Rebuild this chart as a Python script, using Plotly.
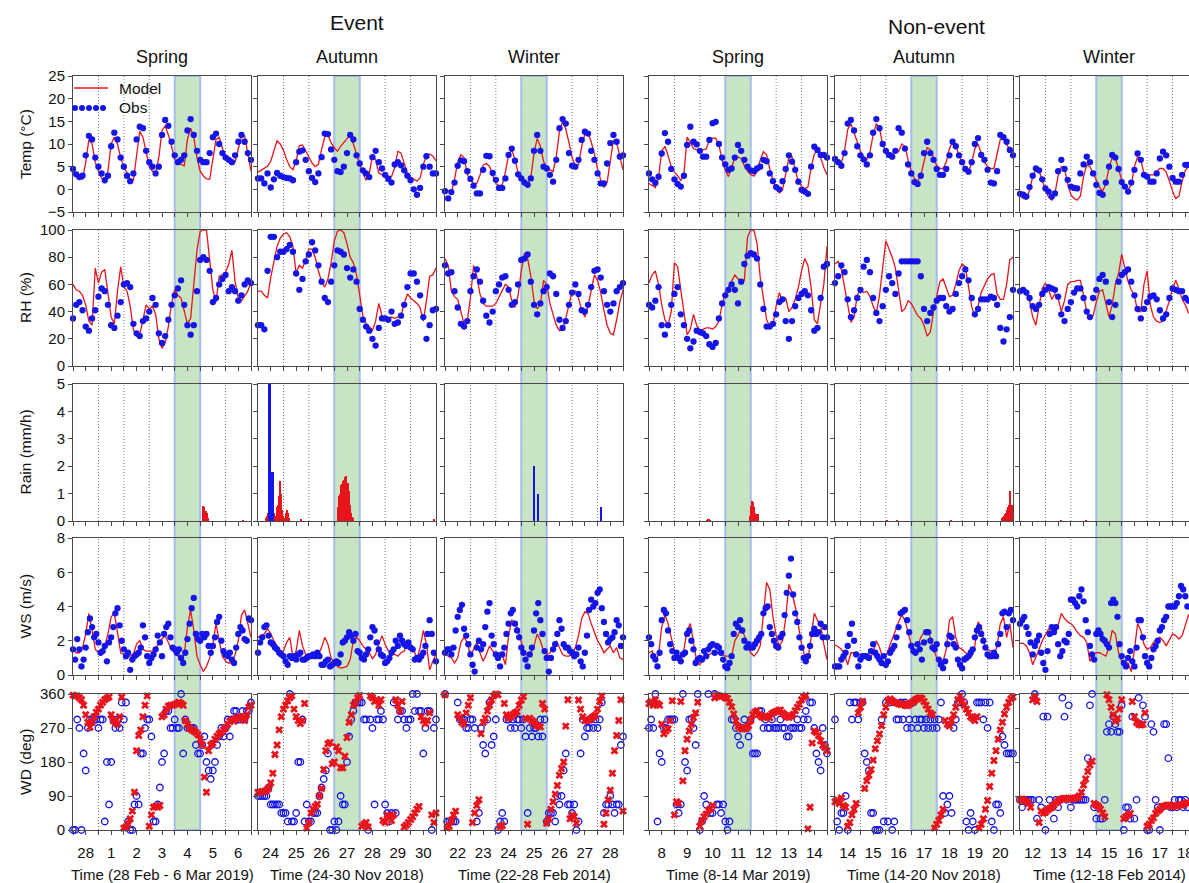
import numpy as np
import plotly.graph_objects as go

# ---------------- tick labels (day of month) ----------------
ev_spr_days = ["28", "1", "2", "3", "4", "5", "6"]
ev_aut_days = ["24", "25", "26", "27", "28", "29", "30"]
ev_win_days = ["22", "23", "24", "25", "26", "27", "28"]
ne_spr_days = ["8", "9", "10", "11", "12", "13", "14"]
ne_aut_days = ["14", "15", "16", "17", "18", "19", "20"]
ne_win_days = ["12", "13", "14", "15", "16", "17", "18"]

# ======== Event - Spring (28 Feb - 6 Mar 2019) ========  (Temp/RH/WS model: 3-hourly, WS/WD obs & WD model: 2-hourly)
ev_spr_temp_model = [4, 3, 2.5, 2.2, 6, 11, 10, 6, 4, 2.5, 1.5, 4, 10, 11.5, 10, 7, 5, 3.5, 2.2, 2, 8, 12.8, 11.5, 8,
                     5, 4, 3.5, 7, 13, 14, 12, 9.5, 6.5, 6.2, 5.5, 5.2, 11, 13.5, 11.5, 7, 4, 3, 2.3, 2.2, 7, 11, 11.5, 9,
                     7.5, 7, 6.5, 6, 9, 11.5, 11.8, 8, 4]
ev_spr_temp_obs = [4.5, 3.3, 2.7, 3, 7.5, 11.8, 11, 7, 5, 3.5, 2, 3, 9.5, 12.5, 11, 7, 5, 3, 1.8, 3.5, 11, 13.8, 13.5, 8.5,
                   6, 5, 3.5, 5, 12, 15.3, 14, 10.5, 7.5, 6, 6.5, 7.5, 13, 15.5, 12, 8.5, 6.5, 6, 6, 8, 11.5, 12.3, 10, 8,
                   7, 6.5, 6, 7.5, 10.5, 12, 10.5, 8, 6.5]
ev_spr_rh_model = [60, 56, 55, 52, 45, 33, 30, 72, 61, 69, 71, 55, 36, 31, 55, 73, 58, 55, 44, 27, 22, 23, 34, 45,
                   42, 44, 38, 20, 13, 17, 29, 46, 56, 52, 50, 40, 31, 35, 60, 85, 99, 100, 100, 80, 56, 47, 66, 67,
                   69, 75, 85, 62, 50, 48, 52, 55, 62]
ev_spr_rh_obs = [35, 45, 47, 41, 29, 26, 35, 41, 51, 57, 55, 45, 30, 28, 37, 47, 60, 61, 58, 31, 24, 22, 33, 35,
                 40, 50, 45, 24, 17, 22, 34, 45, 52, 57, 63, 45, 30, 23, 30, 55, 78, 80, 78, 70, 47, 50, 60, 64,
                 67, 55, 58, 55, 48, 52, 60, 63, 61]
ev_spr_rain_model_hour = [122, 123, 124, 125, 126, 127, 160]
ev_spr_rain_model = [0.55, 0.5, 0.3, 0.35, 0.3, 0.1, 0.03]
ev_spr_rain_obs_hour = []
ev_spr_rain_obs = []
ev_spr_ws_model = [1.5, 1.3, 1.3, 1.6, 2.4, 3.6, 2.6, 1.5, 1.3, 1.3, 1.7, 2.4, 3.4, 3.6, 2.5, 1.3, 1.2, 1.1, 1.1, 1.2,
                   1.8, 2.0, 1.5, 1.4, 1.4, 1.4, 1.5, 1.9, 2.1, 2.3, 1.9, 1.5, 1.3, 1.1, 1.0, 1.2, 2.8, 3.8, 2.6, 1.1,
                   0.6, 0.2, 0.5, 1.0, 1.8, 3.0, 2.0, 1.1, 0.8, 0.7, 0.7, 1.2, 2.0, 3.5, 3.8, 2.9, 2.2]
ev_spr_ws_obs = [1.5, 0.9, 2.1, 1.5, 0.5, 0.9, 1.6, 2.5, 3.3, 2.8, 2.2, 2.4, 1.9, 1.3, 1.4, 1.7, 0.8, 1.9, 2.2, 2.8,
                 3.6, 3.9, 2.9, 2.0, 1.5, 1.1, 1.3, 0.3, 0.9, 1.1, 1.2, 1.3, 1.6, 2.9, 2.2, 1.1, 0.7, 1.0, 1.2, 1.5,
                 2.3, 1.9, 1.1, 2.4, 2.8, 3.0, 2.2, 1.6, 1.5, 1.3, 1.5, 1.0, 0.7, 1.3, 2.1, 3.0, 3.9, 4.5, 2.4, 2.1,
                 2.0, 2.4, 2.2, 2.4, 1.7, 1.3, 1.7, 2.2, 3.1, 3.4, 2.0, 1.4, 1.2, 1.1, 1.3, 0.9, 0.7, 1.6, 2.4, 2.8,
                 2.6, 2.1, 2.0, 3.3, 3.2]
ev_spr_wd_model = [357, 355, 355, 350, 345, 330, 305, 285, 272, 285, 300, 312, 320, 331, 338, 345, 349, 352, 305, 290,
                   285, 280, 300, 352, 5, 8, 15, 30, 50, 100, 210, 250, 265, 300, 330, 355, 10, 40, 60, 62,
                   60, 65, 300, 305, 320, 328, 330, 330, 332, 335, 338, 335, 330, 290, 280, 270, 265, 262, 258, 252,
                   240, 225, 140, 100, 210, 225, 230, 240, 248, 255, 258, 265, 270, 280, 288, 292, 288, 295, 298, 300,
                   295, 290, 305, 325, 330]
ev_spr_wd_obs = [0, 0, 292.5, 270, 0, 202.5, 157.5, 270, 292.5, 292.5, 292.5, 292.5, 270, 292.5, 292.5, 22.5, 180, 67.5,
                 180, 292.5, 270, 292.5, 270, 337.5, 292.5, 337.5, 22.5, 0, 0, 67.5, 90, 67.5, 202.5, 202.5, 270, 292.5,
                 292.5, 247.5, 22.5, 22.5, 67.5, 112.5, 180, 202.5, 315, 315, 270, 270, 292.5, 270, 270, 360, 202.5,
                 292.5, 270, 270, 270, 270, 225, 202.5, 202.5, 225, 247.5, 180, 157.5, 135, 157.5, 180, 225, 247.5,
                 270, 247.5, 270, 292.5, 247.5, 292.5, 315, 315, 292.5, 292.5, 315, 292.5, 315, 315, 337.5]

# ======== Event - Autumn (24-30 Nov 2018) ========
ev_aut_temp_model = [3.8, 4.3, 4.6, 5.1, 6.2, 8.5, 10.7, 10, 8.6, 6.6, 5, 4.3, 6.3, 9.6, 9.8, 8.5, 7, 5.8, 5, 5.5,
                     8.8, 11.5, 12, 10.3, 9.2, 8.4, 9.5, 10.3, 11, 12, 10, 7.8, 5.7, 3.5, 2, 3.5, 7.5, 6.5, 3.6, 3.2,
                     3.1, 3, 2.8, 4.8, 8.4, 8, 5.5, 3.5, 2.7, 2.2, 1.8, 2.5, 5.5, 7.4, 7.8, 7.3, 6.3]
ev_aut_temp_obs = [2.4, 2.4, 1.3, 3.5, 0.4, 2.2, 3.6, 3.0, 2.7, 2.5, 2.4, 2.0, 6.0, 8.3, 8.6, 6.5, 4.0, 2.5, 1.6, 3.5,
                   7.1, 12.3, 12.2, 8.8, 6.5, 4.0, 3.8, 5.0, 8.0, 12.0, 11.0, 7.5, 5.7, 4.2, 3.5, 2.7, 7.1, 8.5, 6.0,
                   4.6, 3.2, 2.3, 1.5, 5.5, 6.0, 5.3, 4.2, 3.0, 2.0, 0.0, -1.2, 0.3, 5.0, 7.3, 5.0, 3.5, 3.5]
ev_aut_rh_model = [55, 55, 52, 50, 65, 78, 88, 94, 97, 98, 95, 88, 68, 74, 72, 78, 86, 86, 80, 70, 62, 58, 64, 76,
                   92, 99, 100, 98, 90, 80, 76, 67, 53, 37, 31, 29, 26, 33, 46, 37, 34, 35, 36, 35, 36, 37, 46, 53,
                   50, 48, 46, 43, 33, 48, 66, 67, 72]
ev_aut_rh_obs = [30, 30, 27, 70, 95, 95, 80, 84, 84, 86, 89, 84, 68, 56, 64, 77, 82, 91, 85, 74, 62, 50, 47, 62,
                 74, 85, 84, 82, 72, 65, 71, 62, 42, 34, 29, 26, 20, 15, 28, 35, 35, 34, 40, 31, 32, 37, 45, 58,
                 68, 68, 62, 52, 36, 20, 30, 41, 42]
ev_aut_rain_model_hour = [7, 8, 9, 10, 11, 12, 13, 14, 15, 16, 17, 18, 19, 20, 21, 22, 23, 24, 25, 26, 27, 28, 29, 40,
                          75, 76, 77, 78, 79, 80, 81, 82, 83, 84, 85, 86, 87, 88, 89, 166]
ev_aut_rain_model = [0.1, 0.2, 0.3, 0.5, 0.6, 0.7, 0.6, 0.35, 0.3, 0.2, 0.5, 0.6, 0.9, 1.45, 1.0, 0.4, 0.2, 0.1, 0.1,
                     0.3, 0.4, 0.3, 0.1, 0.05, 0.5, 0.9, 1.0, 1.3, 1.35, 1.45, 1.5, 1.6, 1.65, 1.4, 1.1, 0.6, 0.3,
                     0.15, 0.1, 0.05]
ev_aut_rain_obs_hour = [10.5, 12, 13.5]
ev_aut_rain_obs = [5.0, 0.7, 1.8]
ev_aut_ws_model = [2.2, 2.3, 2.4, 2.7, 2.4, 2.0, 1.7, 1.4, 1.4, 1.9, 2.2, 1.0, 1.4, 2.6, 1.7, 1.2, 1.1, 1.1, 1.1, 1.2,
                   1.6, 2.2, 1.8, 1.0, 0.7, 0.5, 0.4, 0.45, 0.5, 0.9, 2.0, 2.2, 2.0, 1.7, 1.5, 1.3, 0.95, 1.2, 1.8,
                   2.3, 1.8, 1.4, 1.3, 1.2, 1.1, 1.3, 1.4, 1.8, 1.8, 1.5, 0.9, 1.6, 2.6, 1.8, 0.3, 0.8, 1.2]
ev_aut_ws_obs = [1.3, 1.9, 2.2, 2.8, 2.9, 2.3, 1.9, 1.8, 1.6, 1.5, 1.3, 1.2, 1.1, 0.8, 0.6, 1.1, 1.0, 1.1, 0.9, 1.2,
                 1.3, 0.9, 0.9, 1.0, 1.1, 1.1, 1.2, 1.1, 1.3, 1.1, 0.6, 0.6, 0.8, 0.9, 0.5, 0.6, 0.7, 0.8, 0.7, 1.2,
                 1.9, 2.0, 2.2, 2.5, 2.3, 2.0, 2.4, 1.4, 1.3, 1.0, 0.9, 1.2, 1.5, 2.2, 2.8, 2.6, 1.9, 1.5, 1.2, 1.1,
                 0.7, 0.8, 1.0, 1.3, 1.5, 2.0, 1.7, 2.3, 2.0, 1.8, 1.7, 1.9, 1.6, 1.5, 0.9, 1.0, 0.9, 1.1, 1.3, 1.7,
                 2.4, 3.2, 2.4, 1.3, 0.8]
ev_aut_wd_model = [100, 100, 102, 102, 105, 110, 125, 150, 200, 225, 265, 300, 320, 330, 342, 350, 355, 320, 300, 290,
                   282, 290, 335, 5, 20, 45, 55, 62, 68, 90, 110, 160, 210, 228, 232, 175, 180, 220, 210, 165,
                   165, 195, 245, 285, 305, 330, 338, 350, 356, 10, 15, 20, 8, 355, 350, 340, 345, 330, 345, 25,
                   20, 40, 35, 25, 40, 345, 330, 315, 340, 8, 13, 20, 28, 35, 45, 55, 62, 300, 290, 282,
                   290, 310, 40, 20, 45]
ev_aut_wd_obs = [90, 90, 90, 90, 90, 112.5, 67.5, 67.5, 67.5, 67.5, 67.5, 45, 45, 45, 22.5, 360, 22.5, 22.5, 45, 180,
                 180, 292.5, 22.5, 67.5, 22.5, 22.5, 45, 45, 45, 90, 112.5, 135, 157.5, 202.5, 0, 0, 22.5, 0, 22.5,
                 90, 67.5, 67.5, 180, 247.5, 292.5, 315, 337.5, 337.5, 337.5, 337.5, 292.5, 292.5, 0, 292.5, 270,
                 67.5, 292.5, 292.5, 315, 292.5, 67.5, 45, 22.5, 45, 337.5, 45, 292.5, 315, 315, 292.5, 270, 292.5,
                 292.5, 360, 315, 360, 315, 315, 202.5, 270, 315, 315, 0, 270, 292.5]

# ======== Event - Winter (22-28 Feb 2014) ========
ev_win_temp_model = [0.2, -0.4, -0.8, 2.2, 6, 7.6, 7, 3.3, 2.0, 1.3, 1.3, 3.1, 5.3, 5.7, 5.1, 3.2, 1.3, 0.8, 1.0, 3.8,
                     7.5, 8.7, 6.6, 3.6, 2.9, 2.2, 1.4, 2.5, 8, 11.2, 9.5, 6.2, 4.8, 4.3, 3.9, 7.2, 12.8, 15, 13.3, 10.3,
                     7, 5.2, 5.4, 9.5, 12.2, 12.5, 10.5, 7.8, 4.5, 2, 0.4, 1.5, 6.5, 10.9, 10.3, 7.5, 4.3]
ev_win_temp_obs = [-0.4, -2, -0.6, 1.5, 5.2, 6.4, 6.2, 4, 2.3, 0.8, -0.9, -0.9, 4.3, 7.4, 7.3, 3.6, 2.1, 0.3, 0.3, 2.4,
                   7.6, 9, 6.3, 3.3, 2.4, 1.5, 1.0, 2.4, 8.5, 12, 8.5, 5, 4.6, 3.2, 1.7, 6.5, 13.5, 15.5, 14.5, 8,
                   5.2, 5, 6.5, 10.9, 12.7, 12.3, 8.5, 6.5, 3.5, 1.3, 1.3, 5.7, 10.2, 12, 10.5, 7.2, 7.5]
ev_win_rh_model = [79, 74, 55, 51, 49, 40, 31, 33, 50, 74, 66, 53, 46, 44, 44, 44, 46, 51, 56, 60, 58, 48, 43, 52,
                   70, 83, 79, 66, 48, 42, 45, 63, 60, 46, 38, 30, 26, 27, 35, 46, 55, 55, 50, 41, 36, 44, 56, 67,
                   63, 54, 41, 30, 24, 23, 34, 47, 56]
ev_win_rh_obs = [74, 68, 69, 55, 43, 31, 29, 33, 55, 66, 71, 62, 48, 37, 32, 40, 55, 60, 65, 66, 56, 45, 47, 60,
                 78, 79, 82, 62, 45, 38, 46, 55, 58, 68, 66, 53, 34, 28, 33, 45, 54, 60, 53, 41, 40, 45, 58, 70,
                 71, 65, 55, 45, 40, 46, 55, 58, 61]
ev_win_rain_model_hour = []
ev_win_rain_model = []
ev_win_rain_obs_hour = [84, 87.5, 147]
ev_win_rain_obs = [2.0, 1.0, 0.5]
ev_win_ws_model = [1.3, 1.1, 1.0, 0.7, 1.0, 1.9, 2.2, 1.9, 1.1, 1.5, 1.9, 1.3, 0.8, 1.2, 1.7, 1.4, 1.2, 1.3, 1.2, 0.6,
                   2.3, 3.2, 3.1, 2.6, 1.9, 1.3, 1.1, 1.3, 1.7, 2.4, 2.0, 1.4, 1.2, 1.3, 1.6, 2.0, 1.6, 1.2, 1.1, 1.1,
                   1.2, 1.6, 2.3, 3.3, 3.7, 3.6, 3.0, 2.5, 2.0, 1.7, 1.3, 1.5, 1.7, 1.3, 1.6, 1.0, 0.9]
ev_win_ws_obs = [1.3, 1.5, 1.5, 1.2, 1.6, 2.6, 3.4, 3.8, 4.1, 2.7, 2.3, 1.8, 1.2, 0.6, 0.2, 1.6, 2.0, 1.5, 1.8, 2.8,
                 3.7, 4.2, 2.3, 1.8, 1.2, 1.0, 0.5, 1.2, 1.6, 2.4, 3.0, 3.6, 3.8, 3.0, 2.6, 2.2, 1.6, 1.3, 0.9, 0.5,
                 1.2, 1.6, 2.6, 3.6, 4.2, 3.2, 2.4, 1.4, 1.0, 0.2, 1.0, 1.5, 1.8, 2.4, 3.2, 2.7, 1.8, 1.6, 1.6, 1.4,
                 1.3, 1.1, 1.2, 1.6, 0.8, 0.5, 1.3, 2.3, 3.8, 4.4, 4.0, 4.2, 4.8, 5.0, 3.9, 3.1, 2.4, 1.9, 2.1, 2.2,
                 2.5, 3.2, 2.9, 1.7, 2.2]
ev_win_wd_model = [358, 5, 10, 25, 40, 50, 305, 298, 285, 280, 310, 330, 350, 20, 45, 65, 80, 255, 285, 296,
                   315, 330, 344, 355, 360, 358, 8, 12, 335, 305, 296, 300, 305, 310, 313, 330, 344, 353, 295, 15,
                   296, 290, 285, 278, 275, 273, 335, 320, 18, 30, 55, 75, 95, 118, 145, 163, 180, 275, 345, 30,
                   40, 35, 18, 344, 320, 300, 290, 290, 292, 296, 300, 304, 320, 340, 355, 15, 45, 80, 105, 150,
                   210, 250, 290, 345, 50]
ev_win_wd_obs = [360, 22.5, 22.5, 22.5, 22.5, 22.5, 337.5, 292.5, 292.5, 292.5, 270, 270, 292.5, 292.5, 270, 22.5, 45,
                 270, 225, 202.5, 292.5, 337.5, 225, 247.5, 292.5, 0, 22.5, 45, 22.5, 292.5, 292.5, 270, 292.5, 270,
                 292.5, 292.5, 270, 292.5, 247.5, 45, 270, 247.5, 270, 270, 247.5, 292.5, 247.5, 292.5, 22.5, 45, 45,
                 45, 22.5, 90, 67.5, 90, 157.5, 202.5, 67.5, 67.5, 45, 67.5, 0, 22.5, 202.5, 292.5, 247.5, 270, 270,
                 292.5, 270, 292.5, 270, 292.5, 337.5, 45, 67.5, 67.5, 90, 67.5, 45, 67.5, 67.5, 225, 247.5]

# ======== Non-event - Spring (8-14 Mar 2019) ========
ne_spr_temp_model = [1.3, 0.9, 0.4, 2.5, 8.5, 9.5, 7.5, 5.0, 3.8, 3.0, 1.9, 3.5, 11.5, 10.3, 9.0, 8.7, 8.7, 8.7, 8.9,
                     10.8, 11.3, 11.3, 9.8, 6.5, 4.2, 2.8, 4.8, 7.0, 7.1, 6.8, 5.2, 4.0, 3.3, 2.9, 3.9, 6.5, 8.3, 7.6,
                     4.5, 1.9, 0.3, -0.8, -0.2, 3.0, 6.9, 7.2, 4.2, 1.6, 0.7, 0.2, 0.5, 4.8, 7.8, 8.6, 7.0, 4.8, 3.2]
ne_spr_temp_obs = [3.5, 2.2, 1.4, 2.8, 7.9, 12.4, 10.5, 4.5, 2.2, 1.2, 0.6, 3.0, 9.8, 13.8, 10.5, 9.9, 8.5, 7.2, 7.2,
                   10.9, 14.6, 14.9, 10.0, 7.0, 5.5, 4.3, 4.6, 7.0, 9.8, 8.5, 6.5, 5.0, 4.2, 4.0, 4.6, 5.0, 6.5, 6.2,
                   3.5, 1.8, 0.5, 0.0, 1.8, 4.5, 7.5, 6.1, 4.3, 1.7, -0.1, -0.5, -1.0, 5.0, 9.4, 8.7, 7.6, 7.6, 7.0]
ne_spr_rh_model = [61, 67, 70, 60, 45, 34, 30, 40, 76, 73, 56, 38, 23, 27, 38, 30, 26, 27, 28, 28, 27, 29, 33, 45,
                   54, 58, 63, 67, 64, 63, 63, 95, 100, 100, 90, 65, 50, 34, 29, 30, 44, 54, 47, 50, 40, 43, 49, 58,
                   70, 79, 74, 58, 34, 31, 46, 60, 88]
ne_spr_rh_obs = [45, 43, 48, 58, 30, 23, 30, 45, 53, 58, 38, 30, 20, 13, 18, 26, 25, 24, 22, 16, 14, 17, 35, 46,
                 52, 56, 60, 56, 46, 62, 75, 81, 83, 82, 79, 60, 42, 29, 29, 31, 38, 47, 49, 33, 20, 33, 44, 50,
                 53, 55, 52, 41, 26, 28, 50, 73, 75]
ne_spr_rain_model_hour = [54, 55, 56, 57, 95, 96, 97, 98, 99, 100, 101, 102, 132]
ne_spr_rain_model = [0.03, 0.05, 0.05, 0.03, 0.2, 0.55, 0.72, 0.7, 0.5, 0.3, 0.25, 0.25, 0.03]
ne_spr_rain_obs_hour = []
ne_spr_rain_obs = []
ne_spr_ws_model = [1.3, 1.4, 0.8, 1.2, 2.8, 3.5, 3.0, 2.1, 1.4, 1.0, 0.8, 1.5, 2.6, 3.0, 1.8, 0.8, 0.6, 0.9, 1.1, 1.2,
                   1.3, 1.3, 1.3, 1.2, 1.1, 1.1, 1.1, 2.0, 2.3, 2.8, 2.3, 1.6, 1.3, 1.1, 1.3, 1.7, 3.4, 5.4, 5.0, 3.4,
                   2.3, 1.7, 2.0, 3.3, 5.3, 4.8, 4.0, 3.0, 1.8, 1.1, 0.9, 2.2, 3.6, 3.2, 2.9, 1.8, 0.9]
ne_spr_ws_obs = [2.2, 1.8, 1.1, 0.9, 0.5, 1.3, 3.2, 3.8, 3.6, 2.6, 1.8, 1.4, 1.0, 1.3, 1.0, 0.8, 1.2, 1.3, 2.4, 2.6,
                 2.0, 1.5, 0.7, 0.9, 1.0, 0.9, 1.4, 1.1, 1.5, 1.7, 1.8, 1.3, 1.7, 1.6, 1.3, 0.9, 0.5, 0.4, 0.7, 1.1,
                 2.4, 3.0, 2.8, 3.2, 2.6, 2.0, 1.6, 1.8, 1.6, 1.6, 1.8, 2.0, 2.2, 2.4, 3.6, 3.9, 4.0, 2.8, 2.4, 2.0,
                 1.7, 1.6, 2.2, 2.4, 3.5, 4.8, 5.8, 6.8, 4.7, 3.6, 3.1, 2.2, 1.6, 1.0, 0.8, 1.1, 1.7, 2.4, 2.7, 2.4,
                 2.5, 3.0, 2.2, 2.8, 2.2]
ne_spr_wd_model = [335, 340, 330, 345, 335, 330, 280, 255, 262, 268, 289, 342, 40, 75, 70, 340, 130, 210, 240, 262,
                   280, 298, 310, 338, 10, 25, 35, 42, 52, 56, 65, 350, 357, 355, 353, 354, 350, 348, 338, 326,
                   307, 289, 275, 270, 267, 268, 270, 276, 290, 305, 312, 316, 305, 300, 298, 302, 300, 297, 308, 311,
                   314, 316, 318, 310, 305, 300, 298, 302, 306, 316, 325, 333, 345, 352, 356, 3, 60, 230, 262, 258,
                   250, 236, 224, 218, 210]
ne_spr_wd_obs = [270, 292.5, 270, 360, 22.5, 202.5, 180, 270, 270, 292.5, 292.5, 292.5, 292.5, 67.5, 45, 67.5, 360, 180,
                 157.5, 292.5, 292.5, 270, 225, 360, 0, 22.5, 90, 67.5, 360, 45, 45, 360, 67.5, 67.5, 45, 67.5, 22.5,
                 0, 22.5, 292.5, 292.5, 270, 247.5, 225, 270, 292.5, 270, 247.5, 292.5, 202.5, 202.5, 202.5, 315, 315,
                 270, 292.5, 270, 270, 292.5, 270, 270, 270, 292.5, 270, 270, 247.5, 247.5, 270, 270, 270, 292.5, 270,
                 270, 292.5, 315, 292.5, 337.5, 337.5, 270, 202.5, 180, 157.5, 270, 225, 202.5]

# ======== Non-event - Autumn (14-20 Nov 2018) ========
ne_aut_temp_model = [6.8, 6.1, 5.8, 8.5, 13.2, 14.5, 12.5, 10.2, 8.4, 7.0, 6.5, 8.2, 12.0, 14.5, 13.5, 9.8, 8.6, 7.9,
                     7.9, 8.3, 8.3, 10.0, 9.5, 6.5, 4.0, 2.4, 1.8, 3.0, 6.5, 9.2, 8.8, 6.8, 5.2, 4.6, 4.6, 6.0, 9.0,
                     10.5, 9.6, 7.5, 5.8, 4.5, 4.0, 5.8, 9.0, 10.0, 8.0, 6.0, 5.0, 4.6, 4.6, 7.5, 11.0, 11.0, 10.0,
                     8.8, 8.3]
ne_aut_temp_obs = [6.7, 6.0, 5.2, 8.0, 14.5, 15.3, 13.0, 9.5, 7.5, 6.6, 5.5, 7.5, 12.5, 15.5, 13.5, 10.0, 8.5, 7.6, 7.2,
                   8.5, 13.5, 12.5, 9.0, 5.5, 3.5, 1.6, 1.2, 3.0, 8.0, 10.5, 8.0, 6.5, 4.5, 3.2, 3.2, 4.5, 7.5, 10.5,
                   9.5, 7.5, 6.0, 4.5, 3.9, 6.0, 10.0, 11.3, 7.6, 6.5, 4.3, 1.5, 1.3, 4.0, 12.0, 11.5, 10.5, 8.7, 7.5]
ne_aut_rh_model = [75, 77, 71, 57, 46, 32, 36, 52, 56, 54, 55, 51, 44, 39, 52, 72, 92, 86, 80, 72, 56, 40, 42, 48,
                   46, 41, 37, 35, 30, 22, 25, 40, 51, 62, 64, 58, 51, 52, 60, 70, 75, 73, 60, 44, 36, 44, 54, 59,
                   64, 67, 68, 53, 49, 49, 60, 78, 80]
ne_aut_rh_obs = [61, 66, 74, 69, 49, 36, 41, 50, 56, 73, 78, 69, 50, 39, 33, 44, 56, 66, 61, 53, 68, 77, 77, 77,
                 77, 77, 77, 66, 42, 33, 39, 43, 48, 50, 50, 44, 40, 42, 53, 61, 66, 71, 63, 50, 38, 42, 49, 49,
                 49, 51, 50, 45, 28, 18, 27, 36, 56]
ne_aut_rain_model_hour = [49, 58, 109, 157, 158, 159, 160, 161, 162, 163, 164, 165, 166, 167]
ne_aut_rain_model = [0.03, 0.03, 0.03, 0.1, 0.15, 0.2, 0.25, 0.3, 0.4, 0.5, 0.6, 1.1, 0.6, 0.6]
ne_aut_rain_obs_hour = []
ne_aut_rain_obs = []
ne_aut_ws_model = [1.75, 1.65, 1.5, 1.2, 0.6, 1.3, 1.3, 1.2, 1.2, 1.1, 0.9, 1.0, 1.3, 2.0, 1.6, 1.0, 1.1, 1.6, 2.1, 2.7,
                   3.1, 3.5, 3.2, 2.5, 1.7, 1.8, 1.7, 2.2, 2.5, 2.6, 2.2, 1.5, 1.0, 0.8, 0.8, 1.5, 3.2, 3.4, 2.2, 1.6,
                   1.5, 1.3, 1.2, 1.1, 1.7, 3.1, 2.8, 1.8, 1.5, 1.4, 1.1, 1.7, 3.0, 3.4, 2.2, 3.0, 1.6]
ne_aut_ws_obs = [0.5, 0.5, 0.5, 0.9, 1.1, 1.3, 1.7, 2.4, 3.0, 2.0, 1.2, 0.5, 0.9, 1.1, 1.1, 1.1, 1.0, 1.4, 1.8, 1.3,
                 1.1, 0.9, 0.7, 1.1, 0.6, 0.8, 1.3, 1.5, 1.7, 2.2, 2.8, 3.6, 3.7, 3.8, 3.2, 2.5, 1.7, 1.4, 1.3, 1.8,
                 1.5, 0.9, 1.9, 2.5, 2.5, 2.0, 1.6, 1.5, 1.8, 0.9, 0.6, 0.4, 0.8, 1.8, 2.3, 2.2, 1.8, 1.6, 0.9, 0.6,
                 0.4, 0.9, 1.0, 1.1, 1.3, 1.5, 2.2, 2.6, 2.8, 2.4, 2.0, 1.6, 1.2, 1.1, 1.1, 1.3, 1.1, 1.8, 2.4, 3.6,
                 3.7, 2.8, 3.6, 3.8, 3.2]
ne_aut_wd_model = [75, 80, 70, 85, 65, 60, 10, 20, 40, 55, 70, 310, 325, 340, 110, 130, 145, 160, 185, 215,
                   236, 254, 276, 305, 325, 342, 347, 342, 338, 336, 334, 332, 334, 330, 329, 332, 336, 340, 345, 348,
                   350, 348, 340, 330, 320, 310, 305, 5, 15, 25, 40, 55, 290, 280, 275, 290, 305, 325, 345, 355,
                   340, 330, 320, 310, 300, 295, 290, 300, 5, 15, 30, 55, 78, 115, 150, 184, 210, 240, 265, 285,
                   307, 325, 338, 347, 352]
ne_aut_wd_obs = [292.5, 22.5, 0, 45, 45, 90, 0, 337.5, 292.5, 337.5, 337.5, 292.5, 337.5, 337.5, 202.5, 180, 157.5, 45,
                 45, 0, 0, 0, 292.5, 22.5, 337.5, 22.5, 337.5, 0, 22.5, 292.5, 292.5, 337.5, 292.5, 337.5, 270, 292.5,
                 270, 337.5, 292.5, 270, 292.5, 292.5, 270, 292.5, 270, 292.5, 270, 292.5, 270, 292.5, 337.5, 90, 45,
                 67.5, 90, 45, 270, 292.5, 337.5, 337.5, 360, 337.5, 22.5, 0, 45, 22.5, 0, 337.5, 337.5, 337.5, 292.5,
                 337.5, 270, 337.5, 22.5, 0, 67.5, 67.5, 45, 247.5, 225, 202.5, 202.5, 202.5, 202.5]

# ======== Non-event - Winter (12-18 Feb 2014) ========
ne_win_temp_model = [-1.2, -2.0, -2.2, -0.2, 2.8, 4.3, 4.1, 2.0, -0.2, -1.7, -2.4, -0.9, 3.0, 5.0, 4.5, 1.2, -1.2, -2.0,
                     -2.4, -1.5, 2.8, 5.4, 5.0, 3.6, 1.9, 0.5, -0.4, 1.2, 4.8, 7.0, 7.0, 4.5, 2.0, 0.3, -0.1, 1.0, 5.0,
                     7.2, 6.5, 3.5, 2.8, 3.2, 3.2, 3.9, 4.6, 4.6, 3.8, 1.8, -0.4, -2.0, -1.5, 1.8, 4.2, 5.0, 4.5, 3.0,
                     1.5]
ne_win_temp_obs = [-1.0, -1.2, -1.6, 0.5, 3.0, 4.6, 4.2, 2.2, 0.2, -0.5, -1.6, -0.9, 4.0, 6.5, 4.5, 2.1, 0.6, 0.3, 0.2,
                   3.5, 5.5, 7.2, 6.0, 3.5, 1.0, -0.8, -1.2, 1.5, 5.0, 7.6, 7.0, 4.5, 1.6, 0.6, -0.5, 1.5, 4.3, 7.9,
                   6.5, 3.2, 2.8, 1.7, 1.7, 3.5, 6.8, 8.3, 7.5, 5.0, 2.5, 1.7, 1.7, 3.2, 5.4, 5.4, 4.5, 3.0, 2.0]
ne_win_rh_model = [54, 55, 53, 48, 36, 30, 44, 57, 61, 56, 49, 53, 50, 40, 48, 60, 62, 62, 63, 63, 52, 40, 34, 37,
                   47, 55, 56, 47, 36, 45, 60, 68, 82, 72, 62, 56, 52, 40, 40, 60, 70, 45, 36, 33, 32, 33, 40, 48,
                   57, 63, 57, 49, 45, 39, 40, 45, 50]
ne_win_rh_obs = [55, 56, 54, 50, 44, 42, 45, 53, 56, 58, 57, 56, 51, 38, 33, 42, 47, 54, 57, 57, 50, 40, 36, 50,
                 56, 64, 67, 62, 47, 36, 45, 62, 67, 69, 71, 62, 52, 42, 35, 42, 47, 51, 52, 49, 41, 35, 38, 50,
                 57, 56, 55, 55, 50, 48, 47, 52, 56]
ne_win_rain_model_hour = [38, 62]
ne_win_rain_model = [0.02, 0.03]
ne_win_rain_obs_hour = []
ne_win_rain_obs = []
ne_win_ws_model = [1.85, 1.85, 1.7, 1.3, 0.6, 1.0, 1.5, 2.0, 2.4, 2.7, 2.4, 2.4, 2.9, 3.6, 3.3, 3.1, 3.0, 2.8, 2.5, 2.3,
                   2.2, 1.9, 0.8, 1.2, 1.3, 1.3, 1.2, 1.1, 1.6, 2.6, 2.4, 1.3, 0.8, 0.7, 0.7, 0.2, 1.5, 3.0, 2.6, 1.8,
                   1.5, 1.6, 1.9, 2.1, 2.2, 2.0, 1.7, 2.1, 2.4, 2.3, 2.1, 2.3, 2.9, 3.5, 3.3, 2.8, 2.4]
ne_win_ws_obs = [3.0, 3.2, 3.4, 2.8, 2.4, 1.9, 1.2, 1.7, 2.0, 2.3, 1.3, 0.7, 0.3, 1.4, 2.4, 2.8, 2.5, 2.8, 1.8, 1.1,
                 1.4, 2.0, 1.9, 2.4, 4.4, 4.4, 4.2, 4.0, 4.6, 5.0, 4.3, 3.2, 2.5, 1.7, 1.2, 0.9, 2.4, 2.6, 2.4, 2.1,
                 2.0, 1.8, 1.6, 4.2, 4.4, 4.2, 3.4, 1.8, 1.1, 0.7, 0.5, 1.0, 1.4, 0.8, 0.5, 1.6, 3.2, 3.2, 2.2, 1.1,
                 0.7, 0.5, 1.0, 1.5, 1.7, 2.0, 2.6, 2.8, 3.2, 3.4, 4.0, 4.0, 4.0, 4.0, 4.2, 4.6, 5.2, 5.0, 4.6, 4.0,
                 3.6, 3.0, 2.6, 2.4, 2.2]
ne_win_wd_model = [80, 82, 78, 76, 71, 60, 345, 355, 340, 20, 50, 44, 47, 53, 57, 60, 66, 72, 77, 80,
                   83, 84, 82, 84, 84, 82, 84, 86, 90, 100, 119, 135, 155, 172, 182, 70, 66, 62, 55, 45,
                   35, 358, 345, 325, 305, 288, 295, 320, 345, 30, 35, 40, 44, 340, 300, 285, 280, 278, 280, 310,
                   10, 15, 25, 32, 44, 50, 55, 62, 63, 65, 66, 65, 62, 64, 63, 66, 66, 68, 71, 73,
                   75, 76, 78, 78, 80]
ne_win_wd_obs = [80, 60, 80, 80, 80, 80, 80, 360, 30, 80, 60, 300, 0, 300, 80, 60, 30, 80, 60, 80, 350, 300, 80, 330,
                 60, 80, 80, 80, 80, 80, 80, 80, 190, 330, 360, 60, 30, 60, 30, 30, 80, 260, 280, 260, 300, 280, 260,
                 260, 330, 0, 60, 60, 30, 300, 30, 80, 350, 280, 330, 300, 0, 0, 280, 260, 80, 60, 0, 60, 280, 280,
                 190, 60, 60, 80, 60, 80, 80, 60, 80, 60, 80, 80, 80, 60, 80]

# ---------------------------------------------------------------------------
W, H = 1189, 883
FONT = "Liberation Sans, Arial, Helvetica, sans-serif"
RED = "#e8141b"
BLUE = "#1515e8"
FRAME = "#4a4a4a"
GRIDC = "#7a7a7a"

COL_PX = [(73, 251), (258, 436), (445, 623), (649, 827), (835, 1013), (1020, 1198)]
ROW_PX = [(76, 212), (230, 366), (384, 521), (538, 675), (694, 830)]


def fx(p):
    return p / W


def fy(p):
    return 1.0 - p / H


columns = [
    dict(days=ev_spr_days, band=4, season="Spring", xtitle="Time (28 Feb - 6 Mar 2019)",
         temp=(ev_spr_temp_model, ev_spr_temp_obs), rh=(ev_spr_rh_model, ev_spr_rh_obs),
         rain=(ev_spr_rain_model_hour, ev_spr_rain_model, ev_spr_rain_obs_hour, ev_spr_rain_obs),
         ws=(ev_spr_ws_model, ev_spr_ws_obs), wd=(ev_spr_wd_model, ev_spr_wd_obs)),
    dict(days=ev_aut_days, band=3, season="Autumn", xtitle="Time (24-30 Nov 2018)",
         temp=(ev_aut_temp_model, ev_aut_temp_obs), rh=(ev_aut_rh_model, ev_aut_rh_obs),
         rain=(ev_aut_rain_model_hour, ev_aut_rain_model, ev_aut_rain_obs_hour, ev_aut_rain_obs),
         ws=(ev_aut_ws_model, ev_aut_ws_obs), wd=(ev_aut_wd_model, ev_aut_wd_obs)),
    dict(days=ev_win_days, band=3, season="Winter", xtitle="Time (22-28 Feb 2014)",
         temp=(ev_win_temp_model, ev_win_temp_obs), rh=(ev_win_rh_model, ev_win_rh_obs),
         rain=(ev_win_rain_model_hour, ev_win_rain_model, ev_win_rain_obs_hour, ev_win_rain_obs),
         ws=(ev_win_ws_model, ev_win_ws_obs), wd=(ev_win_wd_model, ev_win_wd_obs)),
    dict(days=ne_spr_days, band=3, season="Spring", xtitle="Time (8-14 Mar 2019)",
         temp=(ne_spr_temp_model, ne_spr_temp_obs), rh=(ne_spr_rh_model, ne_spr_rh_obs),
         rain=(ne_spr_rain_model_hour, ne_spr_rain_model, ne_spr_rain_obs_hour, ne_spr_rain_obs),
         ws=(ne_spr_ws_model, ne_spr_ws_obs), wd=(ne_spr_wd_model, ne_spr_wd_obs)),
    dict(days=ne_aut_days, band=3, season="Autumn", xtitle="Time (14-20 Nov 2018)",
         temp=(ne_aut_temp_model, ne_aut_temp_obs), rh=(ne_aut_rh_model, ne_aut_rh_obs),
         rain=(ne_aut_rain_model_hour, ne_aut_rain_model, ne_aut_rain_obs_hour, ne_aut_rain_obs),
         ws=(ne_aut_ws_model, ne_aut_ws_obs), wd=(ne_aut_wd_model, ne_aut_wd_obs)),
    dict(days=ne_win_days, band=3, season="Winter", xtitle="Time (12-18 Feb 2014)",
         temp=(ne_win_temp_model, ne_win_temp_obs), rh=(ne_win_rh_model, ne_win_rh_obs),
         rain=(ne_win_rain_model_hour, ne_win_rain_model, ne_win_rain_obs_hour, ne_win_rain_obs),
         ws=(ne_win_ws_model, ne_win_ws_obs), wd=(ne_win_wd_model, ne_win_wd_obs)),
]

rows = [
    dict(title="Temp (°C)", range=[-5, 25], tickvals=[-5, 0, 5, 10, 15, 20, 25]),
    dict(title="RH (%)", range=[0, 100], tickvals=[0, 20, 40, 60, 80, 100]),
    dict(title="Rain (mm/h)", range=[0, 5], tickvals=[0, 1, 2, 3, 4, 5]),
    dict(title="WS (m/s)", range=[0, 8], tickvals=[0, 2, 4, 6, 8]),
    dict(title="WD (deg)", range=[0, 360], tickvals=[0, 90, 180, 270, 360]),
]


def t_of(vals, per_day):
    return np.arange(len(vals)) / float(per_day)


fig = go.Figure()
shapes = []
annotations = []
layout_axes = {}
px_per_day = (COL_PX[0][1] - COL_PX[0][0]) / 7.0

for c, col in enumerate(columns):
    x0p, x1p = COL_PX[c]
    last = (c == len(columns) - 1)
    x1v = min(x1p, W)
    xmax = (x1v - x0p) / px_per_day
    half_vals = [i * 0.5 for i in range(15)]
    for r, row in enumerate(rows):
        n = r * 6 + c + 1
        xa = "x" if n == 1 else f"x{n}"
        ya = "y" if n == 1 else f"y{n}"
        xkey = "xaxis" if n == 1 else f"xaxis{n}"
        ykey = "yaxis" if n == 1 else f"yaxis{n}"
        y0p, y1p = ROW_PX[r]
        texts = []
        for v in half_vals:
            if abs(v - round(v)) > 0.1 and int(v) < len(col["days"]):
                texts.append(col["days"][int(v)])
            else:
                texts.append("")
        layout_axes[xkey] = dict(
            domain=[fx(x0p), fx(x1v)], anchor=ya, range=[0, xmax],
            tickmode="array", tickvals=half_vals, ticktext=texts,
            ticks="outside", ticklen=4, tickwidth=1, tickcolor=FRAME,
            showline=True, linecolor=FRAME, linewidth=1, mirror=True,
            showgrid=False, zeroline=False, showticklabels=(r == 4),
            tickfont=dict(size=15, color="#111", family=FONT), fixedrange=True,
            automargin=False, ticklabeloverflow="allow", ticklabelstandoff=5,
        )
        layout_axes[ykey] = dict(
            domain=[fy(y1p), fy(y0p)], anchor=xa, range=row["range"],
            tickmode="array", tickvals=row["tickvals"],
            ticks="outside", ticklen=4, tickwidth=1, tickcolor=FRAME,
            showline=True, linecolor=FRAME, linewidth=1, mirror=(not last),
            showgrid=False, zeroline=False, showticklabels=(c == 0),
            tickfont=dict(size=15, color="#111", family=FONT), fixedrange=True,
            automargin=False, ticklabeloverflow="allow",
        )
        # dotted day separators
        for d in range(1, 7):
            if d < xmax:
                shapes.append(dict(type="line", xref=xa, yref=f"{ya} domain", x0=d, x1=d, y0=0, y1=1,
                                   line=dict(color=GRIDC, width=1, dash="1px,2px"), layer="below"))

        if r == 0 or r == 1:
            model, obs = col["temp"] if r == 0 else col["rh"]
            fig.add_trace(go.Scatter(x=t_of(model, 8), y=model, mode="lines", name="Model",
                                     line=dict(color=RED, width=1.3), xaxis=xa, yaxis=ya, showlegend=False))
            fig.add_trace(go.Scatter(x=t_of(obs, 8), y=obs, mode="markers", name="Obs",
                                     marker=dict(color=BLUE, size=6.3), xaxis=xa, yaxis=ya, showlegend=False,
                                     cliponaxis=False))
        elif r == 2:
            mh, mv, oh, ov = col["rain"]
            if len(mv):
                fig.add_trace(go.Bar(x=(np.array(mh, dtype=float) + 0.5) / 24.0, y=mv, width=1 / 24.0,
                                     marker=dict(color=RED, line=dict(width=0)), name="Model",
                                     xaxis=xa, yaxis=ya, showlegend=False))
            if len(ov):
                fig.add_trace(go.Bar(x=(np.array(oh, dtype=float) + 0.5) / 24.0, y=ov, width=0.07,
                                     marker=dict(color=BLUE, line=dict(width=0)), name="Obs",
                                     xaxis=xa, yaxis=ya, showlegend=False))
        elif r == 3:
            model, obs = col["ws"]
            fig.add_trace(go.Scatter(x=t_of(model, 8), y=model, mode="lines", name="Model",
                                     line=dict(color=RED, width=1.3), xaxis=xa, yaxis=ya, showlegend=False))
            fig.add_trace(go.Scatter(x=t_of(obs, 12), y=obs, mode="markers", name="Obs",
                                     marker=dict(color=BLUE, size=6.3), xaxis=xa, yaxis=ya, showlegend=False,
                                     cliponaxis=False))
        else:
            model, obs = col["wd"]
            fig.add_trace(go.Scatter(x=t_of(obs, 12), y=obs, mode="markers", name="Obs",
                                     marker=dict(color=BLUE, size=6.5, symbol="circle-open", line=dict(width=1.3)),
                                     xaxis=xa, yaxis=ya, showlegend=False, cliponaxis=False))
            fig.add_trace(go.Scatter(x=t_of(model, 12), y=model, mode="markers", name="Model",
                                     marker=dict(color=RED, size=7, symbol="x", line=dict(width=0)),
                                     xaxis=xa, yaxis=ya, showlegend=False, cliponaxis=False))

    # highlighted day band spanning all rows of the column
    xa_top = "x" if c == 0 else f"x{c + 1}"
    shapes.append(dict(type="rect", xref=xa_top, yref="paper", x0=col["band"], x1=col["band"] + 1,
                       y0=fy(ROW_PX[-1][1]), y1=fy(ROW_PX[0][0]),
                       fillcolor="#c8e4c4", line=dict(color="#a6bdea", width=2), layer="below"))

    cx = (x0p + x1p) / 2.0
    annotations.append(dict(text=col["season"], x=fx(cx), y=fy(57), xref="paper", yref="paper",
                            showarrow=False, font=dict(size=18, family=FONT, color="#111"),
                            xanchor="center", yanchor="middle"))
    annotations.append(dict(text=col["xtitle"], x=fx(cx), y=fy(874), xref="paper", yref="paper",
                            showarrow=False, font=dict(size=15, family=FONT, color="#111"),
                            xanchor="center", yanchor="middle"))

for r, row in enumerate(rows):
    cy = (ROW_PX[r][0] + ROW_PX[r][1]) / 2.0
    annotations.append(dict(text=row["title"], x=fx(25), y=fy(cy), xref="paper", yref="paper",
                            showarrow=False, textangle=-90, font=dict(size=15.5, family=FONT, color="#111"),
                            xanchor="center", yanchor="middle"))

annotations.append(dict(text="Event", x=fx(357), y=fy(22), xref="paper", yref="paper", showarrow=False,
                        font=dict(size=21, family=FONT, color="#111"), xanchor="center", yanchor="middle"))
annotations.append(dict(text="Non-event", x=fx(936), y=fy(27), xref="paper", yref="paper", showarrow=False,
                        font=dict(size=21, family=FONT, color="#111"), xanchor="center", yanchor="middle"))

# legend (inside the first temperature panel)
shapes.append(dict(type="line", xref="paper", yref="paper", x0=fx(74), x1=fx(108), y0=fy(88), y1=fy(88),
                   line=dict(color=RED, width=1.5)))
for k in range(5):
    cxp = 75 + 7 * k
    rr = 3.0
    shapes.append(dict(type="circle", xref="paper", yref="paper", x0=fx(cxp - rr), x1=fx(cxp + rr),
                       y0=fy(108 + rr), y1=fy(108 - rr), fillcolor=BLUE, line=dict(color=BLUE, width=0)))
annotations.append(dict(text="Model", x=fx(117), y=fy(88), xref="paper", yref="paper", showarrow=False,
                        font=dict(size=15.5, family=FONT, color="#111"), xanchor="left", yanchor="middle"))
annotations.append(dict(text="Obs", x=fx(117), y=fy(108), xref="paper", yref="paper", showarrow=False,
                        font=dict(size=15.5, family=FONT, color="#111"), xanchor="left", yanchor="middle"))

fig.update_layout(
    width=W, height=H, margin=dict(l=0, r=0, t=0, b=0, pad=0, autoexpand=False),
    paper_bgcolor="white", plot_bgcolor="rgba(0,0,0,0)",
    showlegend=False, barmode="overlay", bargap=0,
    font=dict(family=FONT, color="#111"),
    shapes=shapes, annotations=annotations,
    **layout_axes,
)

fig.write_html("out.html")
